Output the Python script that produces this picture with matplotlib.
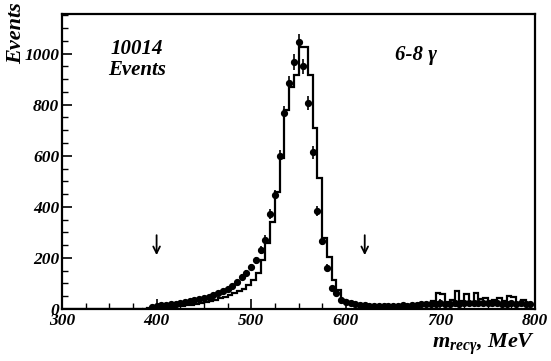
import numpy as np
import matplotlib as mpl
import matplotlib.pyplot as plt

mpl.use('Agg')

# histogram (MC), bin edges in MeV, 5 MeV bins
hist_edges = np.arange(385, 800, 5)
hist_y = [2, 3, 4, 5, 6, 7, 8, 10, 12, 14,
          17, 20, 24, 28, 32, 37, 42, 48, 55, 62,
          70, 80, 95, 113, 141, 192, 258, 340, 458, 590,
          780, 870, 916, 1025, 1025, 916, 708, 513, 278, 203,
          113, 74, 35, 25, 20, 17, 15, 14, 14, 13,
          12, 14, 12, 13, 15, 14, 16, 15, 18, 25,
          22, 30, 62, 60, 28, 35, 70, 30, 58, 25,
          62, 40, 45, 30, 35, 45, 30, 50, 48, 25,
          35, 25]

# data points
pts_x = np.arange(395, 800, 5)
pts_y = [8, 12, 14, 16, 18, 20, 23, 26, 30, 34,
         38, 43, 48, 54, 62, 70, 78, 90, 105, 125,
         140, 164, 190, 230, 272, 372, 446, 600, 767, 884,
         967, 1045, 950, 806, 614, 384, 266, 162, 82, 63,
         35, 28, 22, 18, 16, 14, 13, 13, 12, 12,
         12, 13, 12, 14, 13, 15, 16, 18, 18, 20,
         20, 22, 21, 20, 22, 20, 22, 25, 24, 22,
         24, 25, 23, 22, 21, 20, 22, 20, 22, 18,
         18]

cut_lo, cut_hi = 400, 620

plt.rcParams['font.family'] = ['Liberation Serif', 'DejaVu Serif']
plt.rcParams['font.weight'] = 'bold'
plt.rcParams['font.style'] = 'italic'
plt.rcParams['mathtext.fontset'] = 'custom'
plt.rcParams['mathtext.it'] = 'Liberation Serif:italic:bold'
plt.rcParams['mathtext.rm'] = 'Liberation Serif:bold'

fig = plt.figure(figsize=(5.51, 3.61), dpi=100)
ax = fig.add_axes([0.1125, 0.144, 0.8585, 0.817])

ax.stairs(hist_y, hist_edges, color='black', lw=1.6, baseline=None)
ax.plot([300, hist_edges[0]], [0, 0], color='black', lw=1.6)

ax.errorbar(pts_x, pts_y, yerr=np.sqrt(pts_y), fmt='o', color='black',
            ms=4.2, elinewidth=1.2, capsize=0)

for xc in (cut_lo, cut_hi):
    ax.annotate('', xy=(xc, 200), xytext=(xc, 300),
                arrowprops=dict(arrowstyle='->', color='black', lw=1.3,
                                mutation_scale=12))

ax.set_xlim(300, 800)
ax.set_ylim(0, 1155)
ax.set_xticks(range(300, 801, 100))
ax.set_xticks(range(300, 801, 25), minor=True)
ax.set_yticks(range(0, 1001, 200))
ax.set_yticks(range(0, 1151, 50), minor=True)
ax.tick_params(direction='in', which='major', length=7, width=1.2,
               labelsize=12.5, pad=2)
ax.tick_params(axis='x', which='major', pad=3)
ax.tick_params(direction='in', which='minor', length=4, width=1.0)
for lab in ax.get_xticklabels() + ax.get_yticklabels():
    lab.set_fontweight('bold')
    lab.set_fontstyle('italic')
for sp in ax.spines.values():
    sp.set_linewidth(1.6)

fig.text(0.012, 0.995, 'Events', rotation=90, ha='left', va='top', fontsize=16)
ax.text(0.159, 0.915, '10014\nEvents', transform=ax.transAxes, ha='center',
        va='top', fontsize=15, linespacing=1.05)
ax.text(0.704, 0.862, '6-8 \u03b3', transform=ax.transAxes, ha='left',
        va='center', fontsize=15)
fig.text(0.972, 0.012, r'$m_{rec\gamma}$, MeV', ha='right', va='bottom',
         fontsize=16)

fig.savefig('out.png', dpi=100)
